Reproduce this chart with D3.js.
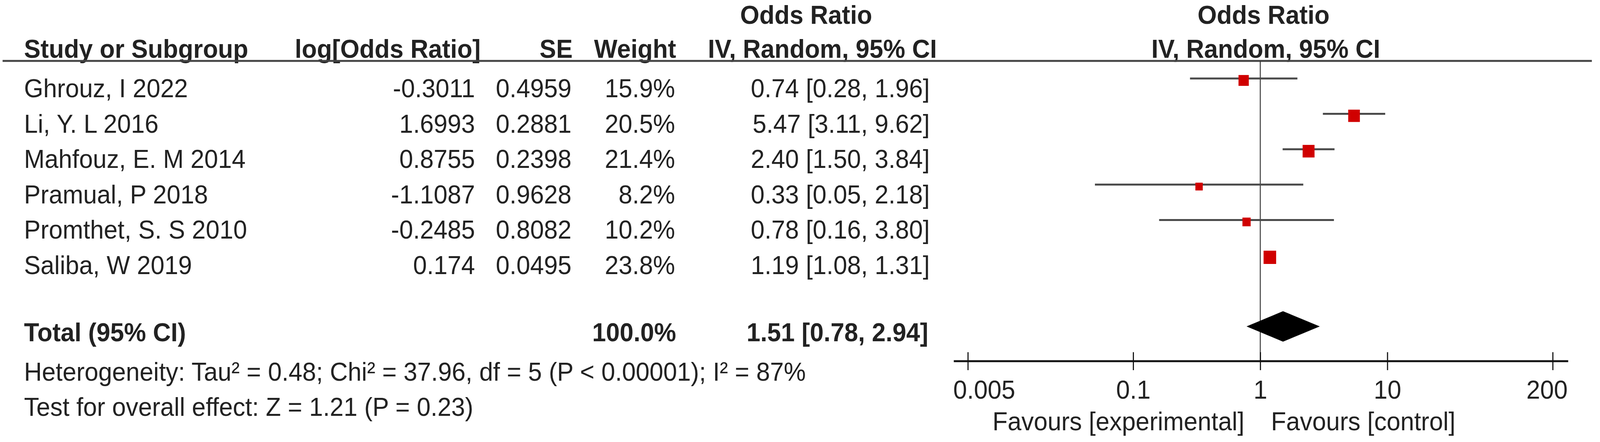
<!DOCTYPE html>
<html>
<head>
<meta charset="utf-8">
<script src="https://cdn.jsdelivr.net/npm/d3@7"></script>
<style>
  html, body { margin: 0; padding: 0; background: #fff; overflow: hidden; }
  svg { display: block; }
  svg text { font-family: "Liberation Sans", Arial, sans-serif; fill: #222; }
</style>
</head>
<body>
<div id="chart"></div>
<script>
// Study rows
const studies = ["Ghrouz, I 2022", "Li, Y. L 2016", "Mahfouz, E. M 2014", "Pramual, P 2018", "Promthet, S. S 2010", "Saliba, W 2019"];
const logOR = [-0.3011, 1.6993, 0.8755, -1.1087, -0.2485, 0.174];
const se = [0.4959, 0.2881, 0.2398, 0.9628, 0.8082, 0.0495];
const weights = [15.9, 20.5, 21.4, 8.2, 10.2, 23.8];
const oddsRatio = [0.74, 5.47, 2.40, 0.33, 0.78, 1.19];
const ciLow = [0.28, 3.11, 1.50, 0.05, 0.16, 1.08];
const ciHigh = [1.96, 9.62, 3.84, 2.18, 3.80, 1.31];

// Pooled estimate
const totalWeight = 100.0;
const totalOR = 1.51;
const totalLow = 0.78;
const totalHigh = 2.94;

const axisTicks = [0.005, 0.1, 1, 10, 200];
const heterogeneityText = "Heterogeneity: Tau² = 0.48; Chi² = 37.96, df = 5 (P < 0.00001); I² = 87%";
const overallText = "Test for overall effect: Z = 1.21 (P = 0.23)";

// layout is drawn in a 4328x1132 frame, then fitted to the window
const width = 4328, height = 1132;
const fontSize = 67;

const svg = d3.select('#chart').append('svg')
  .attr('width', window.innerWidth || width)
  .attr('height', window.innerHeight || height)
  .attr('viewBox', `0 0 ${width} ${height}`)
  .attr('preserveAspectRatio', 'none');

// scales
const x = d3.scaleLog().domain([0.005, 200]).range([2618, 4200]);
const rowBase = d3.scaleLinear().domain([0, studies.length - 1]).range([249, 702]);
const boxSize = d3.scaleSqrt().domain([0, 23.8]).range([0, 34]);

const txt = (sel, str, xPos, yPos, anchor, bold) => sel.append('text')
  .attr('x', xPos)
  .attr('y', yPos)
  .attr('text-anchor', anchor || 'start')
  .attr('font-size', fontSize)
  .attr('font-weight', bold ? 'bold' : 'normal')
  .text(str);

// Headers
const head = svg.append('g');
txt(head, 'Odds Ratio', 2002, 61, 'start', true);
txt(head, 'Odds Ratio', 3418, 61, 'middle', true);
txt(head, 'Study or Subgroup', 65, 148, 'start', true);
txt(head, 'log[Odds Ratio]', 1300, 148, 'end', true);
txt(head, 'SE', 1549, 148, 'end', true);
txt(head, 'Weight', 1829, 148, 'end', true);
txt(head, 'IV, Random, 95% CI', 1915, 148, 'start', true);
txt(head, 'IV, Random, 95% CI', 3424, 148, 'middle', true);

head.append('line')
  .attr('x1', 7).attr('x2', 4306)
  .attr('y1', 156).attr('y2', 156)
  .attr('stroke', '#444').attr('stroke-width', 5);

// Table rows
const rows = svg.append('g').selectAll('g.row')
  .data(studies.map((s, i) => ({ name: s, i: i })))
  .join('g').attr('class', 'row');

rows.each(function (d) {
  const g = d3.select(this);
  const y = rowBase(d.i);
  txt(g, d.name, 65, y);
  txt(g, String(logOR[d.i]), 1285, y, 'end');
  txt(g, String(se[d.i]), 1546, y, 'end');
  txt(g, weights[d.i].toFixed(1) + '%', 1826, y, 'end');
  txt(g, `${oddsRatio[d.i].toFixed(2)} [${ciLow[d.i].toFixed(2)}, ${ciHigh[d.i].toFixed(2)}]`, 2515, y, 'end');
});

// Total row
const totalBase = 874;
txt(svg, 'Total (95% CI)', 65, totalBase, 'start', true);
txt(svg, totalWeight.toFixed(1) + '%', 1829, totalBase, 'end', true);
txt(svg, `${totalOR.toFixed(2)} [${totalLow.toFixed(2)}, ${totalHigh.toFixed(2)}]`, 2511, totalBase, 'end', true);
txt(svg, heterogeneityText, 65, 975);
txt(svg, overallText, 65, 1065);

// Forest plot
const plot = svg.append('g');

// line of no effect
plot.append('line')
  .attr('x1', x(1)).attr('x2', x(1))
  .attr('y1', 156).attr('y2', 925)
  .attr('stroke', '#333').attr('stroke-width', 2.5);

// confidence intervals
plot.selectAll('line.ci')
  .data(studies.map((s, i) => i))
  .join('line')
  .attr('class', 'ci')
  .attr('x1', i => x(ciLow[i]))
  .attr('x2', i => x(ciHigh[i]))
  .attr('y1', i => rowBase(i) - 48)
  .attr('y2', i => rowBase(i) - 48)
  .attr('stroke', '#4a4a4a')
  .attr('stroke-width', 5);

// weighted squares
plot.selectAll('rect.box')
  .data(studies.map((s, i) => i))
  .join('rect')
  .attr('class', 'box')
  .attr('x', i => x(oddsRatio[i]) - boxSize(weights[i]) / 2)
  .attr('y', i => rowBase(i) - 43 - boxSize(weights[i]) / 2)
  .attr('width', i => boxSize(weights[i]))
  .attr('height', i => boxSize(weights[i]))
  .attr('fill', '#d00000');

// pooled diamond
const dy = 836, dh = 39;
plot.append('path')
  .attr('d', `M${x(totalLow)},${dy}L${x(totalOR)},${dy - dh}L${x(totalHigh)},${dy}L${x(totalOR)},${dy + dh}Z`)
  .attr('fill', '#000');

// axis
const axisG = plot.append('g')
  .attr('transform', 'translate(0,925)')
  .call(d3.axisBottom(x).tickValues(axisTicks).tickFormat(d => String(d)).tickSizeOuter(0).tickSizeInner(23));

axisG.select('.domain')
  .attr('d', `M${x(axisTicks[0]) - 38},0H${x(axisTicks[axisTicks.length - 1]) + 42}`)
  .attr('stroke', '#111').attr('stroke-width', 5);
axisG.selectAll('.tick line')
  .attr('y1', -23).attr('y2', 23)
  .attr('stroke', '#111').attr('stroke-width', 3);
axisG.selectAll('.tick text')
  .attr('y', 96).attr('dy', null)
  .attr('font-size', fontSize)
  .attr('font-family', '"Liberation Sans", Arial, sans-serif')
  .attr('fill', '#222')
  .attr('x', (d, i) => i === 0 ? -40 : (i === axisTicks.length - 1 ? 40 : 0))
  .attr('text-anchor', (d, i) => i === 0 ? 'start' : (i === axisTicks.length - 1 ? 'end' : 'middle'));

txt(plot, 'Favours [experimental]', x(1) - 43, 1102, 'end');
txt(plot, 'Favours [control]', x(1) + 29, 1102, 'start');
</script>
</body>
</html>
